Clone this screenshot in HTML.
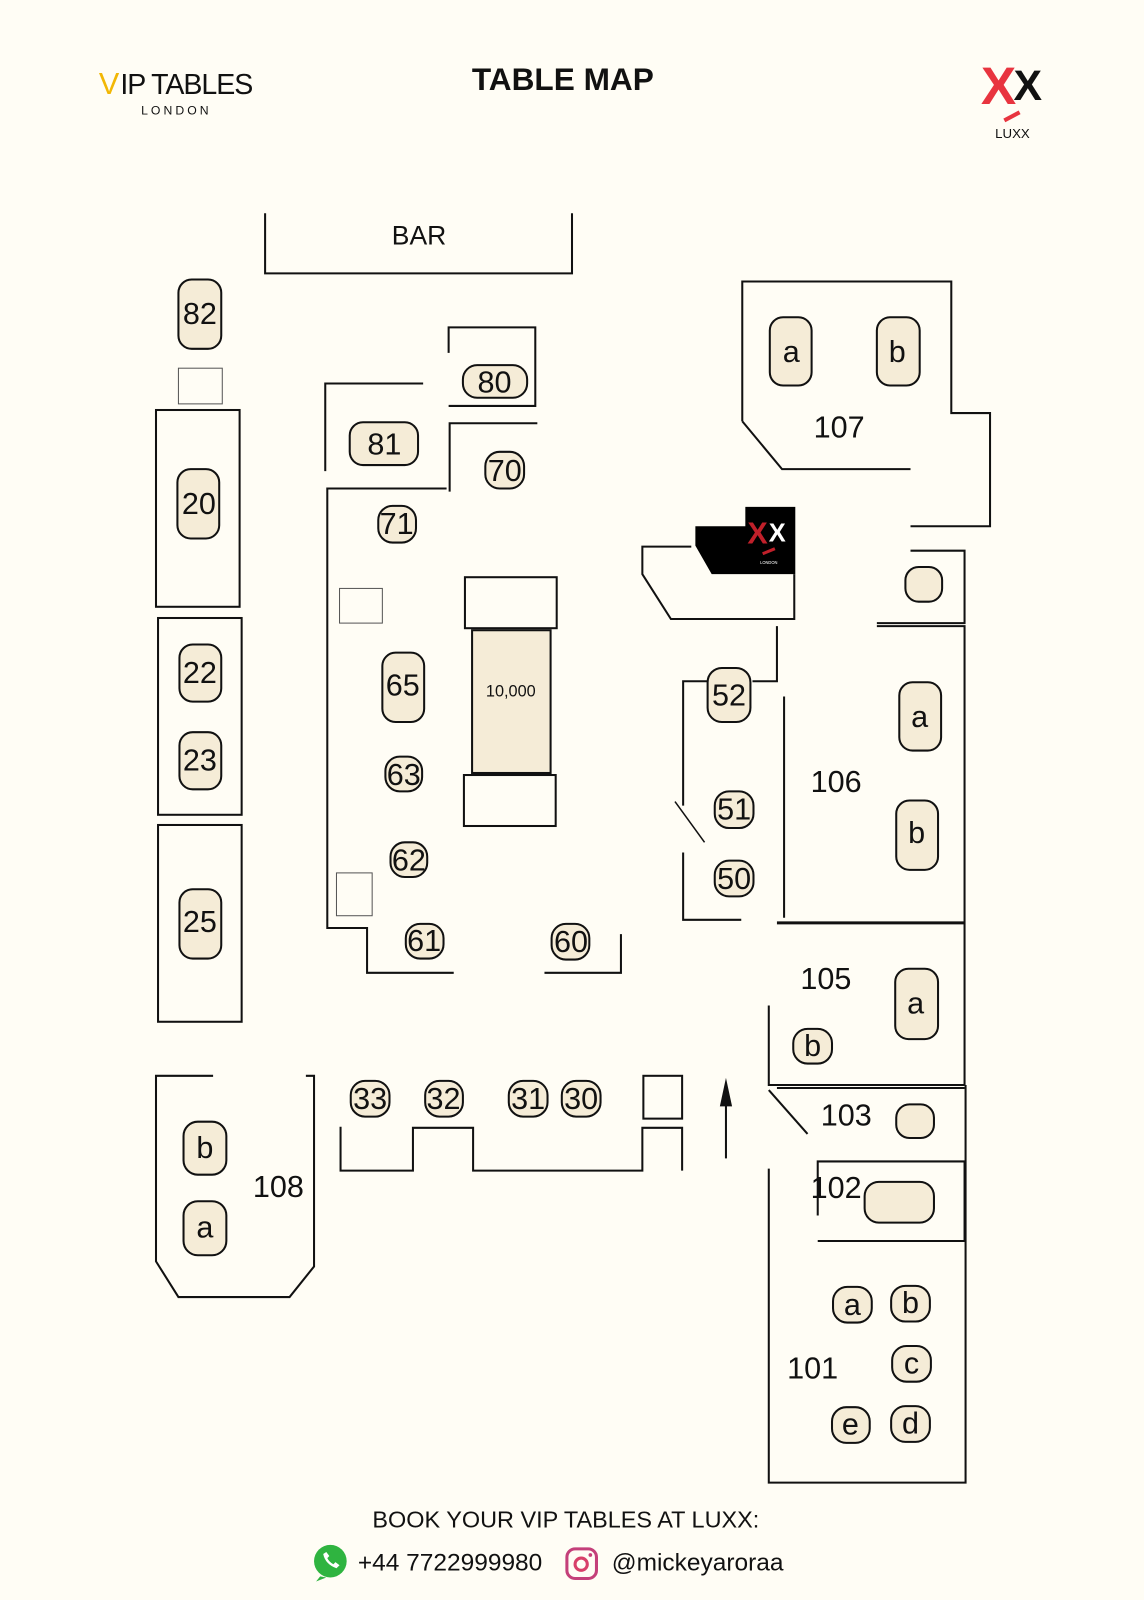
<!DOCTYPE html>
<html><head><meta charset="utf-8"><style>
html,body{margin:0;padding:0;background:#fffdf5;}
svg{display:block}
text{font-family:"Liberation Sans",sans-serif;fill:#111}
.w{fill:none;stroke:#111;stroke-width:2}
.t{fill:#f5ecd7;stroke:#111;stroke-width:2}
.g{fill:none;stroke:#555;stroke-width:1}
.n{font-size:30px;text-anchor:middle;dominant-baseline:central}
.m{font-size:29px;text-anchor:middle;dominant-baseline:central}
</style></head><body>
<svg width="1144" height="1600" viewBox="0 0 1122 1569" xmlns="http://www.w3.org/2000/svg">
<rect width="1122" height="1569" fill="#fffdf5"/>
<text x="97" y="92" style="font-size:30px;fill:#f2b705">V</text>
<text x="118" y="92" style="font-size:28px;letter-spacing:-1px">IP TABLES</text>
<text x="173" y="112" style="font-size:12px;letter-spacing:3px;text-anchor:middle">LONDON</text>
<text x="552" y="88" style="font-size:31px;font-weight:bold;text-anchor:middle">TABLE MAP</text>
<text x="962" y="102" style="font-size:52px;font-weight:bold;fill:#e8343f">X</text>
<text x="994" y="98" style="font-size:42px;font-weight:bold">X</text>
<path d="M985 118 L1000 110" stroke="#e8343f" stroke-width="4"/>
<text x="993" y="135" style="font-size:13px;text-anchor:middle">LUXX</text>
<polyline class="w" points="260,209 260,268 561,268 561,209"/>
<text x="411" y="231" class="m" style="font-size:26px">BAR</text>
<rect x="175" y="274" width="42" height="68" rx="13" class="t"/><text x="196" y="308" class="n">82</text>
<rect x="175" y="361" width="43" height="35" class="g"/>
<rect x="153" y="402" width="82" height="193" class="w"/>
<rect x="174" y="460" width="41" height="68" rx="13" class="t"/><text x="195" y="494" class="n">20</text>
<rect x="155" y="606" width="82" height="193" class="w"/>
<rect x="176" y="632" width="41" height="56" rx="13" class="t"/><text x="196" y="660" class="n">22</text>
<rect x="176" y="718" width="41" height="56" rx="13" class="t"/><text x="196" y="746" class="n">23</text>
<rect x="155" y="809" width="82" height="193" class="w"/>
<rect x="176" y="872" width="41" height="68" rx="13" class="t"/><text x="196" y="904" class="n">25</text>
<polyline class="w" points="319,462 319,376 415,376"/>
<rect x="343" y="414" width="67" height="42" rx="13" class="t"/><text x="377" y="436" class="n">81</text>
<polyline class="w" points="440,346 440,321 525,321 525,398 440,398"/>
<rect x="454" y="358" width="63" height="32" rx="14" class="t"/><text x="485" y="375" class="n">80</text>
<polyline class="w" points="441,482 441,415 527,415"/>
<rect x="476" y="443" width="38" height="36" rx="14" class="t"/><text x="495" y="462" class="n">70</text>
<polyline class="w" points="438,479 321,479 321,910 360,910 360,954 445,954"/>
<rect x="371" y="496" width="37" height="36" rx="14" class="t"/><text x="389" y="514" class="n">71</text>
<rect x="333" y="577" width="42" height="34" class="g"/>
<rect x="330" y="856" width="35" height="42" class="g"/>
<rect x="375" y="640" width="41" height="68" rx="13" class="t"/><text x="395" y="672" class="n">65</text>
<rect x="378" y="742" width="36" height="34" rx="14" class="t"/><text x="396" y="760" class="n">63</text>
<rect x="383" y="826" width="36" height="34" rx="14" class="t"/><text x="401" y="844" class="n">62</text>
<rect x="398" y="906" width="37" height="34" rx="14" class="t"/><text x="416" y="923" class="n">61</text>
<rect x="541" y="906" width="37" height="35" rx="14" class="t"/><text x="560" y="924" class="n">60</text>
<polyline class="w" points="534,954 609,954 609,916"/>
<rect x="456" y="566" width="90" height="50" class="w"/>
<rect x="463" y="618" width="77" height="140" class="t"/>
<text x="501" y="678" class="n" style="font-size:16px">10,000</text>
<rect x="455" y="760" width="90" height="50" class="w"/>
<polygon points="682,516 731,516 731,497 780,497 780,563 698,563 682,535" fill="#000"/>
<text x="733" y="533" style="font-size:30px;font-weight:bold;fill:#c0202a">X</text>
<text x="754" y="531" style="font-size:25px;font-weight:bold;fill:#fff">X</text>
<path d="M748 543 L760 538" stroke="#c0202a" stroke-width="3"/>
<text x="754" y="553" style="font-size:4px;fill:#fff;text-anchor:middle">LONDON</text>
<polyline class="w" points="678,536 630,536 630,563 658,607 779,607 779,563"/>
<polyline class="w" points="762,614 762,668 738,668"/>
<polyline class="w" points="670,790 670,668 694,668"/>
<rect x="694" y="655" width="42" height="53" rx="14" class="t"/><text x="715" y="682" class="n">52</text>
<rect x="701" y="776" width="38" height="36" rx="14" class="t"/><text x="720" y="794" class="n">51</text>
<rect x="701" y="844" width="38" height="35" rx="14" class="t"/><text x="720" y="862" class="n">50</text>
<line class="w" x1="662" y1="786" x2="691" y2="826" style="stroke-width:1.5"/>
<polyline class="w" points="670,836 670,902 727,902"/>
<line class="w" x1="769" y1="683" x2="769" y2="900"/>
<line class="w" x1="762" y1="905" x2="946" y2="905" style="stroke-width:3"/>
<polyline class="w" points="860,614 946,614 946,1064"/>
<text x="820" y="767" class="n">106</text>
<rect x="882" y="669" width="41" height="67" rx="13" class="t"/><text x="902" y="703" class="n">a</text>
<rect x="879" y="785" width="41" height="68" rx="13" class="t"/><text x="899" y="817" class="n">b</text>
<polyline class="w" points="728,413 728,276 933,276 933,405 971,405 971,516 893,516"/>
<polyline class="w" points="728,413 767,460 893,460"/>
<rect x="755" y="311" width="41" height="67" rx="13" class="t"/><text x="776" y="345" class="n">a</text>
<rect x="860" y="311" width="42" height="67" rx="13" class="t"/><text x="880" y="345" class="n">b</text>
<text x="823" y="419" class="n">107</text>
<polyline class="w" points="893,540 946,540 946,611 860,611"/>
<rect x="888" y="556" width="36" height="34" rx="13" class="t"/>
<polyline class="w" points="754,986 754,1064 946,1064"/>
<text x="810" y="960" class="n">105</text>
<rect x="878" y="950" width="42" height="69" rx="13" class="t"/><text x="898" y="984" class="n">a</text>
<rect x="778" y="1009" width="38" height="34" rx="14" class="t"/><text x="797" y="1026" class="n">b</text>
<line class="w" x1="754" y1="1069" x2="792" y2="1112"/>
<line class="w" x1="762" y1="1067" x2="946" y2="1067"/>
<text x="830" y="1094" class="n">103</text>
<rect x="879" y="1083" width="37" height="33" rx="13" class="t"/>
<polyline class="w" points="802,1192 802,1139 946,1139 946,1217 802,1217"/>
<rect x="848" y="1159" width="68" height="40" rx="14" class="t"/>
<text x="820" y="1165" class="n">102</text>
<polyline class="w" points="754,1146 754,1454 947,1454 947,1064"/>
<text x="797" y="1342" class="n">101</text>
<rect x="817" y="1262" width="38" height="35" rx="14" class="t"/><text x="836" y="1280" class="n">a</text>
<rect x="874" y="1261" width="38" height="35" rx="14" class="t"/><text x="893" y="1278" class="n">b</text>
<rect x="875" y="1320" width="38" height="35" rx="14" class="t"/><text x="894" y="1337" class="n">c</text>
<rect x="816" y="1380" width="37" height="35" rx="14" class="t"/><text x="834" y="1397" class="n">e</text>
<rect x="874" y="1379" width="38" height="35" rx="14" class="t"/><text x="893" y="1396" class="n">d</text>
<line class="w" x1="712" y1="1136" x2="712" y2="1075"/>
<polygon points="712,1057 706,1085 718,1085" fill="#111"/>
<polyline class="w" points="209,1055 153,1055 153,1237 175,1272 284,1272 308,1242 308,1055 300,1055"/>
<rect x="180" y="1100" width="42" height="52" rx="14" class="t"/><text x="201" y="1126" class="n">b</text>
<rect x="180" y="1178" width="42" height="53" rx="14" class="t"/><text x="201" y="1204" class="n">a</text>
<text x="273" y="1164" class="n">108</text>
<rect x="344" y="1060" width="38" height="35" rx="14" class="t"/><text x="363" y="1078" class="n">33</text>
<rect x="417" y="1060" width="37" height="35" rx="14" class="t"/><text x="435" y="1078" class="n">32</text>
<rect x="499" y="1060" width="38" height="35" rx="14" class="t"/><text x="518" y="1078" class="n">31</text>
<rect x="551" y="1060" width="38" height="35" rx="14" class="t"/><text x="570" y="1078" class="n">30</text>
<polyline class="w" points="334,1105 334,1148 405,1148 405,1106 464,1106 464,1148 630,1148 630,1106 669,1106 669,1148"/>
<rect x="631" y="1055" width="38" height="42" class="w"/>
<text x="555" y="1498" style="font-size:23px;text-anchor:middle">BOOK YOUR VIP TABLES AT LUXX:</text>
<circle cx="324" cy="1531" r="16" fill="#2fb440"/>
<path d="M314 1546 L310 1551 L320 1547 Z" fill="#2fb440"/>
<path d="M317 1524 q2 10 13 14 l3-3 -4-3 -2 2 q-4-2-6-6 l2-2 -3-4z" fill="#fff"/>
<text x="351" y="1540" style="font-size:24px">+44 7722999980</text>
<rect x="556" y="1519" width="29" height="29" rx="8" fill="none" stroke="#c4407a" stroke-width="3"/>
<circle cx="570" cy="1534" r="6" fill="none" stroke="#d8406a" stroke-width="3"/>
<circle cx="579" cy="1525" r="1.8" fill="#c4407a"/>
<text x="600" y="1540" style="font-size:24px">@mickeyaroraa</text>
</svg>
</body></html>
